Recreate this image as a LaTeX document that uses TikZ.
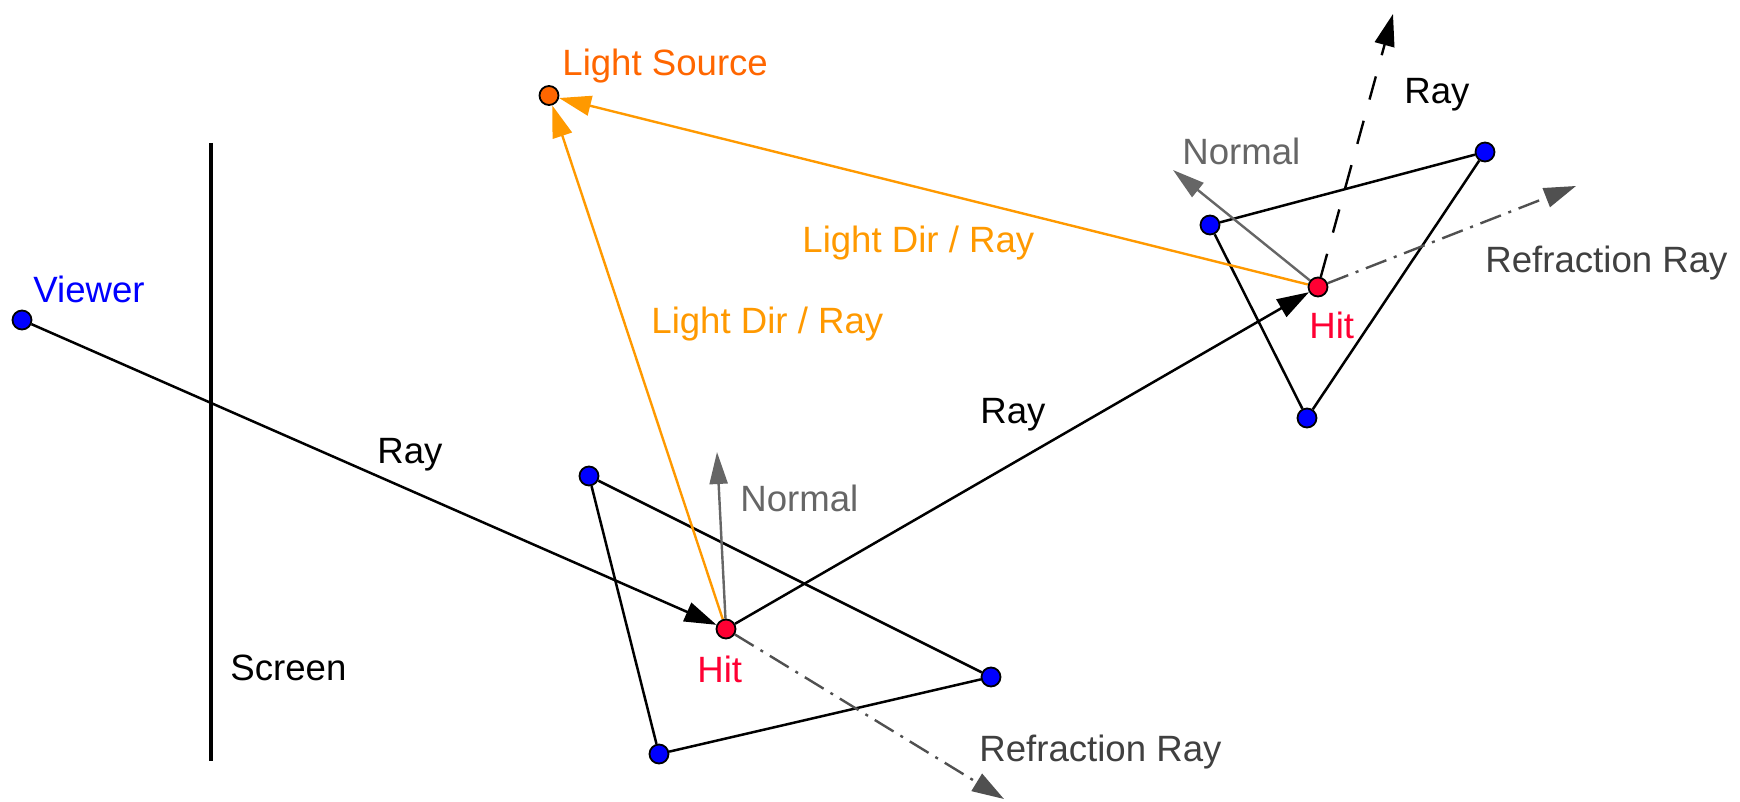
\documentclass[tikz,border=0pt]{standalone}
\usepackage{fontspec}
\setmainfont{Liberation Sans}
\usetikzlibrary{arrows.meta}
\definecolor{ptblue}{RGB}{0,0,255}
\definecolor{hitred}{RGB}{255,0,51}
\definecolor{srcorange}{RGB}{255,102,0}
\definecolor{lightorange}{RGB}{255,153,0}
\definecolor{normgray}{RGB}{102,102,102}
\definecolor{refgray}{RGB}{80,80,80}
\definecolor{reftext}{RGB}{64,64,64}
\pgfdeclarelayer{background}
\pgfsetlayers{background,main}
\begin{document}
\begin{tikzpicture}[x=0.5pt,y=-0.5pt,
  lbl/.style={anchor=base west, inner sep=0pt, font=\fontsize{18.3}{22}\selectfont},
  bpt/.style={circle, draw=black, line width=0.9pt, fill=ptblue, minimum size=9.5pt, inner sep=0pt},
  hpt/.style={bpt, fill=hitred},
  spt/.style={bpt, fill=srcorange},
  tri/.style={line width=1.25pt, black},
  ray/.style={line width=1.25pt, black, -{Triangle[length=16pt,width=10pt]}},
  lightray/.style={line width=1.2pt, lightorange, -{Triangle[length=16pt,width=10pt]}},
  normalvec/.style={line width=1.2pt, normgray, -{Triangle[length=16pt,width=9pt]}},
  refray/.style={line width=1.2pt, refgray, dash pattern=on 11pt off 4pt on 1.5pt off 4pt, -{Triangle[length=16pt,width=10pt]}},
  upray/.style={line width=1.2pt, black, dash pattern=on 12pt off 11pt, -{Triangle[length=16pt,width=10pt]}}
]
\useasboundingbox (0,0) rectangle (1740,802);

% points
\node[bpt] (v) at (22,320) {};
\node[spt] (ls) at (549,95.5) {};
\node[hpt] (h1) at (726,629) {};
\node[hpt] (h2) at (1318,287) {};
\node[bpt] (a1) at (589,476) {};
\node[bpt] (b1) at (991,677) {};
\node[bpt] (c1) at (659,754) {};
\node[bpt] (a2) at (1210,225) {};
\node[bpt] (b2) at (1485,152) {};
\node[bpt] (c2) at (1307,418) {};

% free ends
\coordinate (s1) at (211,143);
\coordinate (s2) at (211,761);
\coordinate (n1) at (717,452);
\coordinate (rf1) at (1004,799);
\coordinate (n2) at (1173,170);
\coordinate (up2) at (1393,14);
\coordinate (rf2) at (1576,186);

\begin{pgfonlayer}{background}
  \draw[line width=1.8pt, black] (s1) -- (s2);
  \draw[tri] (a1) -- (b1) -- (c1) -- (a1);
  \draw[tri] (a2) -- (b2) -- (c2) -- (a2);
  \draw[refray] (h1) -- (rf1);
  \draw[refray] (h2) -- (rf2);
  \draw[upray] (h2) -- (up2);
  \draw[normalvec] (h1) -- (n1);
  \draw[normalvec] (h2) -- (n2);
  \draw[ray] (v) -- (h1);
  \draw[ray] (h1) -- (h2);
  \draw[lightray] (h1) -- (ls);
  \draw[lightray] (h2) -- (ls);
\end{pgfonlayer}

% labels
\node[lbl, text=ptblue] (tv) at (33,303) {Viewer};
\node[lbl, text=black] (tsc) at (230,680.5) {Screen};
\node[lbl, text=srcorange] (tls) at (562,75.5) {Light Source};
\node[lbl, text=lightorange] (tld1) at (802,252.5) {Light Dir / Ray};
\node[lbl, text=lightorange] (tld2) at (651,333.5) {Light Dir / Ray};
\node[lbl, text=black] (tr1) at (377,463) {Ray};
\node[lbl, text=normgray] (tn1) at (740,511) {Normal};
\node[lbl, text=hitred] (th1) at (697,682.5) {Hit};
\node[lbl, text=reftext] (trf1) at (979,761.5) {Refraction Ray};
\node[lbl, text=black] (tr2) at (980,423) {Ray};
\node[lbl, text=hitred] (th2) at (1309,338.5) {Hit};
\node[lbl, text=normgray] (tn2) at (1182,164.5) {Normal};
\node[lbl, text=black] (tr3) at (1404,103.5) {Ray};
\node[lbl, text=reftext] (trf2) at (1485,272) {Refraction Ray};
\end{tikzpicture}
\end{document}
